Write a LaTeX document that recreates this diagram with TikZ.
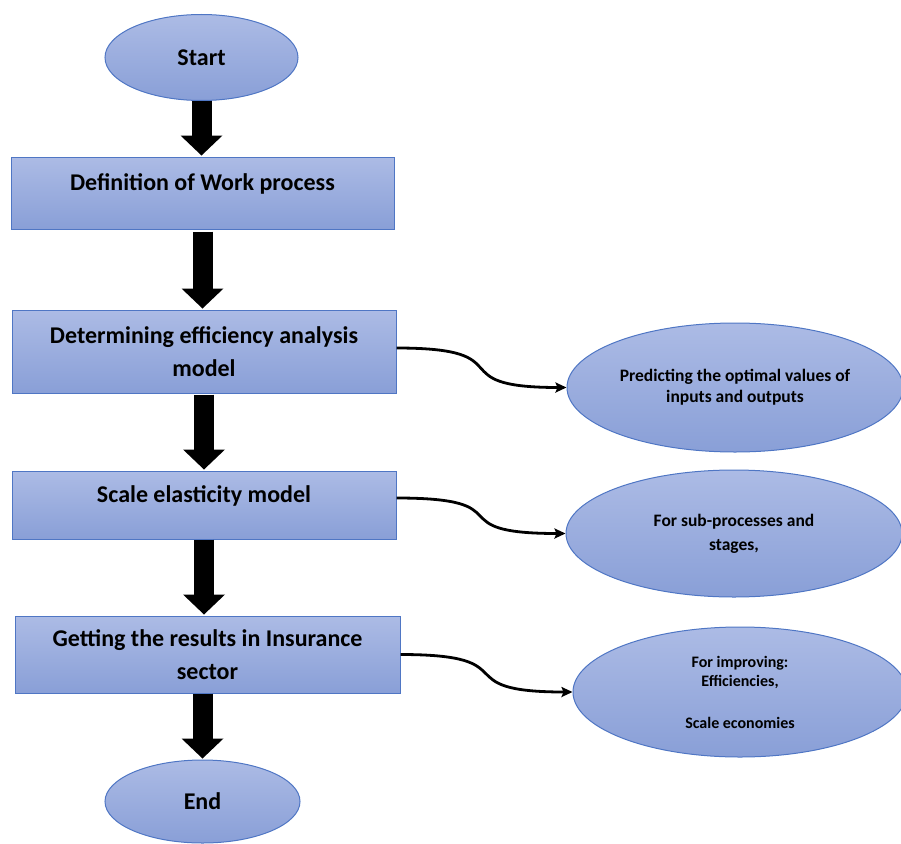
\documentclass[tikz,border=0pt]{standalone}
\usepackage{fontspec}
\setmainfont{Carlito}
\usetikzlibrary{shapes.geometric,arrows.meta}
\definecolor{fillTop}{RGB}{172,187,229}
\definecolor{fillBot}{RGB}{137,159,215}
\definecolor{fillFlat}{RGB}{162,179,226}
\definecolor{edgeBlue}{RGB}{79,118,196}
\tikzset{
  bluefill/.style={shading=axis, top color=fillTop, bottom color=fillBot, draw=edgeBlue, line width=1pt},
  procbox/.style={bluefill, rectangle, align=center, inner sep=0pt,
    font=\bfseries\fontsize{24}{33}\selectfont},
  raisedtext/.style={text height=17pt, text depth=23pt},
  termnode/.style={bluefill, ellipse, inner sep=0pt, font=\bfseries\fontsize{24}{28}\selectfont},
  sidenode/.style={bluefill, ellipse, inner sep=0pt, align=center},
  blockarrow/.style={draw=black, line width=20pt, shorten >=1pt,
    -{Triangle[width=42pt,length=20pt,line width=0pt]}},
  curvearrow/.style={draw=black, line width=2.8pt, -{Stealth[length=11pt,width=10pt,inset=2pt]}},
  flatpatch/.style={fill=fillFlat}
}
\begin{document}
\begin{tikzpicture}[x=1pt,y=-1pt]
\useasboundingbox (0,0) rectangle (901,843);

% main column
\node[termnode, minimum width=193pt, minimum height=86pt,
  path picture={\fill[flatpatch] (153,33) rectangle (238,75);}] (start) at (201.5,57.5) {Start};
\node[procbox, raisedtext, minimum width=383pt, minimum height=72pt] (box1) at (202.5,193) {Definition of Work process};
\node[procbox, minimum width=384pt, minimum height=83pt] (box2) at (204,351.5) {Determining efficiency analysis\\model};
\node[procbox, raisedtext, minimum width=384pt, minimum height=68pt] (box3) at (204,505) {Scale elasticity model};
\node[procbox, minimum width=385pt, minimum height=77pt] (box4) at (207.5,654.5) {Getting the results in Insurance\\sector};
\node[termnode, minimum width=195pt, minimum height=83pt] (end) at (202.5,801.5) {End};

% side ellipses
\node[sidenode, minimum width=336pt, minimum height=129pt,
  font=\bfseries\fontsize{17.5}{21}\selectfont,
  path picture={\fill[flatpatch] (593,348) rectangle (883,412);}] (e1) at (735,387.5)
  {Predicting the optimal values of\\inputs and outputs};
\node[sidenode, minimum width=336pt, minimum height=127pt,
  font=\bfseries\fontsize{17.5}{24}\selectfont,
  path picture={\fill[flatpatch] (620,497) rectangle (850,573);}] (e2) at (734,533.5)
  {For sub-processes and\\stages,};
\node[sidenode, minimum width=334pt, minimum height=130pt,
  font=\bfseries\fontsize{16}{19}\selectfont,
  path picture={\fill[flatpatch] (632,640) rectangle (872,742);}] (e3) at (740,692)
  {For improving:\\Efficiencies,\\[23pt]Scale economies};

% block arrows
\draw[blockarrow] (start.south) -- (start.south |- box1.north);
\draw[blockarrow, shorten <=2pt] (box1.south) -- (box1.south |- box2.north);
\draw[blockarrow, shorten <=1pt] (box2.south) -- (box2.south |- box3.north);
\draw[blockarrow] (box3.south) -- (box3.south |- box4.north);
\draw[blockarrow] (end.north |- box4.south) -- (end.north);

% curved connectors
\draw[curvearrow] ([yshift=3.5pt]box2.east) .. controls +(130,0) and +(-130,0) .. (e1.west);
\draw[curvearrow] ([yshift=7pt]box3.east) .. controls +(130,0) and +(-130,0) .. (e2.west);
\draw[curvearrow] (box4.east) .. controls +(130,0) and +(-130,0) .. (e3.west);
\end{tikzpicture}
\end{document}
